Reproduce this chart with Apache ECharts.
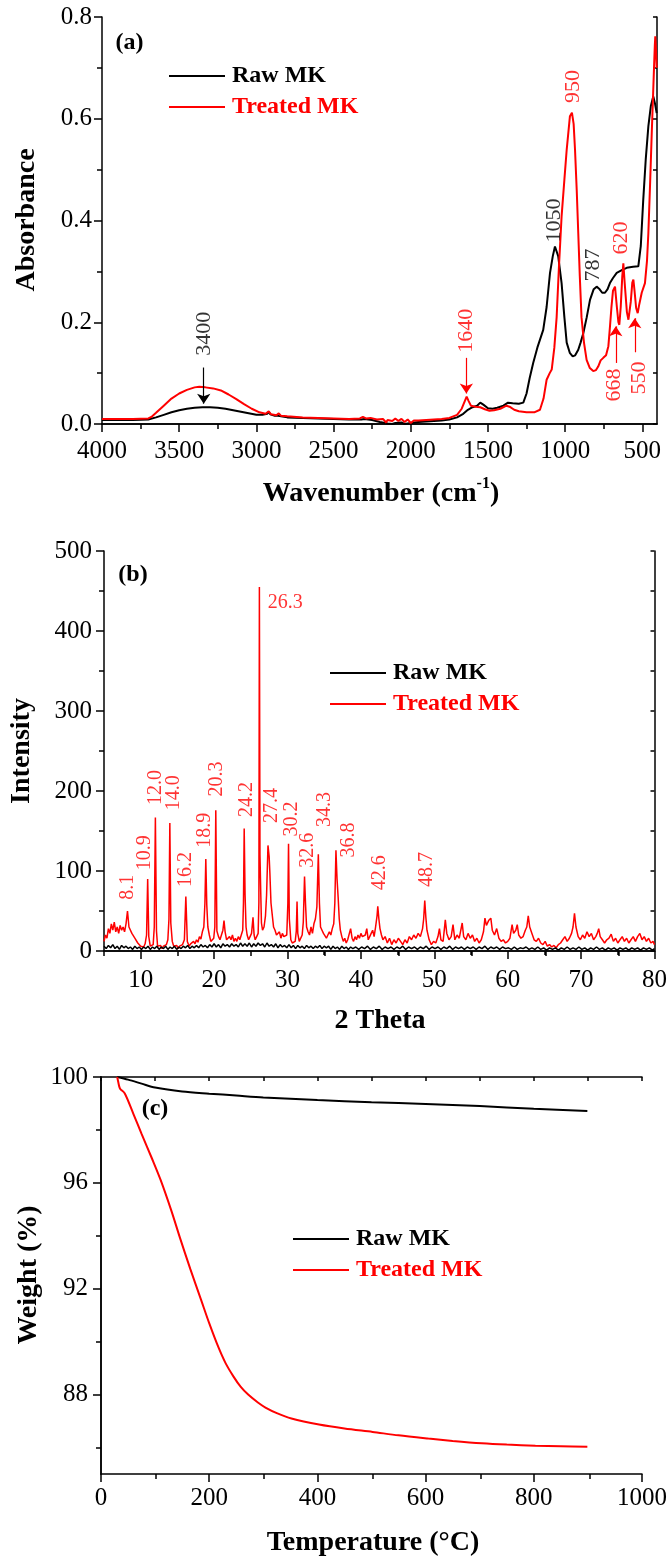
<!DOCTYPE html>
<html><head><meta charset="utf-8">
<script src="https://cdn.jsdelivr.net/npm/echarts@6/dist/echarts.min.js"></script>
<style>html,body{margin:0;padding:0;background:#fff}#c{width:670px;height:1559px}</style>
</head><body><div id="c"></div>
<script>
// ---------- DATA ----------
// (a) FTIR: [wavenumber cm-1, absorbance]
const ftirRaw = [[4000,0.008],[3800,0.008],[3700,0.009],[3650,0.013],[3600,0.018],[3550,0.023],[3500,0.027],[3450,0.030],[3400,0.032],[3350,0.033],[3300,0.033],[3250,0.032],[3200,0.030],[3150,0.027],[3100,0.024],[3050,0.021],[3000,0.018],[2960,0.018],[2930,0.020],[2920,0.024],[2910,0.019],[2880,0.016],[2860,0.016],[2850,0.019],[2840,0.015],[2800,0.013],[2700,0.012],[2600,0.011],[2500,0.010],[2400,0.009],[2320,0.009],[2300,0.010],[2250,0.008],[2200,0.004],[2150,0.001],[2120,0.000],[2100,0.002],[2060,0.003],[2040,0.000],[2000,0.002],[1950,0.004],[1900,0.005],[1850,0.006],[1800,0.007],[1750,0.009],[1700,0.013],[1660,0.020],[1630,0.028],[1600,0.033],[1570,0.036],[1550,0.042],[1530,0.038],[1500,0.031],[1470,0.030],[1440,0.032],[1400,0.036],[1370,0.042],[1340,0.041],[1300,0.040],[1271,0.042],[1250,0.060],[1230,0.090],[1207,0.120],[1180,0.150],[1142,0.185],[1120,0.230],[1098,0.297],[1080,0.330],[1066,0.349],[1058,0.350],[1045,0.330],[1023,0.277],[1005,0.210],[990,0.160],[970,0.140],[951,0.133],[935,0.135],[915,0.146],[900,0.160],[882,0.179],[860,0.210],[839,0.244],[815,0.265],[796,0.270],[780,0.266],[760,0.258],[742,0.258],[725,0.265],[710,0.277],[690,0.287],[666,0.297],[630,0.303],[601,0.307],[560,0.309],[526,0.310],[510,0.350],[494,0.441],[478,0.520],[461,0.585],[445,0.625],[429,0.644],[418,0.630],[407,0.611]];
const ftirTreated = [[4000,0.010],[3800,0.010],[3700,0.011],[3680,0.014],[3650,0.022],[3600,0.036],[3550,0.050],[3500,0.060],[3450,0.067],[3400,0.072],[3370,0.073],[3330,0.072],[3280,0.070],[3230,0.066],[3180,0.058],[3130,0.049],[3080,0.039],[3030,0.030],[2980,0.023],[2940,0.020],[2920,0.025],[2905,0.019],[2870,0.017],[2855,0.021],[2840,0.016],[2800,0.015],[2700,0.013],[2600,0.012],[2500,0.011],[2400,0.010],[2330,0.011],[2310,0.014],[2290,0.011],[2260,0.012],[2220,0.009],[2180,0.010],[2160,0.003],[2150,0.008],[2120,0.006],[2100,0.011],[2080,0.006],[2060,0.010],[2040,0.004],[2020,0.009],[2000,0.002],[1980,0.007],[1950,0.007],[1900,0.008],[1850,0.009],[1800,0.010],[1750,0.012],[1700,0.018],[1670,0.030],[1650,0.045],[1638,0.054],[1625,0.045],[1610,0.036],[1580,0.034],[1550,0.033],[1520,0.029],[1490,0.026],[1460,0.027],[1420,0.030],[1380,0.036],[1360,0.034],[1330,0.028],[1300,0.025],[1250,0.023],[1200,0.023],[1163,0.028],[1140,0.050],[1120,0.087],[1100,0.100],[1087,0.107],[1070,0.150],[1055,0.210],[1040,0.310],[1023,0.408],[1005,0.480],[990,0.539],[969,0.605],[956,0.612],[945,0.590],[936,0.539],[925,0.460],[915,0.375],[905,0.290],[894,0.210],[878,0.160],[861,0.126],[840,0.110],[818,0.104],[800,0.106],[786,0.113],[770,0.125],[753,0.130],[735,0.135],[720,0.153],[710,0.190],[700,0.230],[690,0.262],[677,0.270],[665,0.230],[655,0.200],[649,0.195],[640,0.230],[630,0.290],[623,0.316],[615,0.280],[600,0.220],[590,0.205],[584,0.202],[575,0.240],[565,0.278],[558,0.284],[550,0.260],[540,0.228],[530,0.218],[520,0.235],[504,0.258],[483,0.277],[470,0.320],[461,0.375],[450,0.470],[439,0.572],[430,0.650],[424,0.703],[419,0.745],[416,0.762],[412,0.740],[407,0.700]];
// peak labels [x, y at text start, text]
const ftirNotesRaw = [[3341,0.134,'3400'],[1074,0.357,'1050'],[820,0.280,'787']];
const ftirNotesTreated = [[947,0.631,'950'],[1640,0.140,'1640'],[638,0.333,'620'],[683,0.044,'668'],[521,0.058,'550']];
// arrows [x, yFrom, yTo]
const ftirArrowsRaw = [[3341,0.111,0.040]];
const ftirArrowsTreated = [[1640,0.130,0.060],[672,0.120,0.192],[549,0.141,0.208]];

// (b) XRD: [2 theta, intensity]
const xrdRaw = [[5,6],[5.3,3],[5.6,7],[5.9,4],[6.2,8],[6.5,3],[6.8,6],[7.1,2],[7.4,7],[7.7,4],[8.0,6],[8.3,3],[8.6,5],[8.9,2],[9.2,6],[9.5,3],[9.8,5],[10.1,2],[10.4,5],[10.7,3],[11.0,6],[11.3,2],[11.6,5],[11.9,3],[12.2,6],[12.5,2],[12.8,5],[13.1,3],[13.4,6],[13.7,2],[14.0,5],[14.3,3],[14.6,6],[14.9,2],[15.2,5],[15.5,3],[15.8,6],[16.1,4],[16.4,7],[16.7,3],[17.0,6],[17.3,4],[17.6,7],[17.9,4],[18.2,8],[18.5,5],[18.8,7],[19.1,4],[19.4,8],[19.7,5],[20.0,9],[20.3,5],[20.6,8],[20.9,4],[21.2,9],[21.5,6],[21.8,8],[22.1,5],[22.4,9],[22.7,6],[23.0,8],[23.3,5],[23.6,10],[23.9,6],[24.2,9],[24.5,6],[24.8,10],[25.1,5],[25.4,9],[25.7,6],[26.0,10],[26.3,7],[26.6,9],[26.9,5],[27.2,10],[27.5,6],[27.8,8],[28.1,5],[28.4,9],[28.7,4],[29.0,8],[29.3,5],[29.6,7],[29.9,4],[30.2,8],[30.5,4],[30.8,7],[31.1,3],[31.4,7],[31.7,4],[32.0,6],[32.3,3],[32.6,7],[32.9,4],[33.2,6],[33.5,3],[33.8,6],[34.1,4],[34.4,7],[34.7,3],[35.0,6],[35.3,4],[35.6,6],[35.9,2],[36.2,6],[36.5,3],[36.8,5],[37.1,2],[37.4,6],[37.7,3],[38.0,5],[38.3,2],[38.6,5],[38.9,3],[39.3,5],[39.7,2],[40.1,5],[40.5,3],[40.9,6],[41.3,2],[41.7,5],[42.1,3],[42.5,6],[42.9,2],[43.3,5],[43.7,3],[44.1,5],[44.5,2],[44.9,5],[45.3,3],[45.7,6],[46.1,2],[46.5,5],[46.9,3],[47.3,5],[47.7,2],[48.1,5],[48.5,3],[48.9,6],[49.3,2],[49.7,5],[50.1,3],[50.5,5],[50.9,2],[51.3,5],[51.7,3],[52.1,6],[52.5,2],[52.9,5],[53.3,3],[53.7,5],[54.1,2],[54.5,5],[54.9,3],[55.3,5],[55.7,2],[56.1,5],[56.5,3],[56.9,6],[57.3,2],[57.7,5],[58.1,3],[58.5,5],[58.9,2],[59.3,5],[59.7,3],[60.1,4],[60.5,2],[60.9,5],[61.3,2],[61.7,4],[62.1,3],[62.5,5],[62.9,2],[63.3,4],[63.7,2],[64.1,5],[64.5,2],[64.9,4],[65.3,1],[65.7,4],[66.1,2],[66.5,4],[66.9,1],[67.3,4],[67.7,2],[68.1,5],[68.5,2],[68.9,4],[69.3,2],[69.7,5],[70.1,2],[70.5,4],[70.9,1],[71.3,4],[71.7,2],[72.1,5],[72.5,2],[72.9,4],[73.3,1],[73.7,4],[74.1,2],[74.5,4],[74.9,1],[75.3,4],[75.7,2],[76.1,4],[76.5,1],[76.9,4],[77.3,2],[77.7,4],[78.1,1],[78.5,4],[78.9,2],[79.3,4],[79.7,1],[80,3]];
const xrdTreated = [[5.0,12],[5.2,20],[5.4,16],[5.6,28],[5.8,22],[6.0,34],[6.2,26],[6.4,36],[6.6,24],[6.8,30],[7.0,22],[7.2,32],[7.4,26],[7.6,30],[7.8,24],[8.0,34],[8.2,50],[8.4,30],[8.6,28],[8.8,22],[9.0,24],[9.2,16],[9.4,14],[9.6,10],[9.8,12],[10.0,6],[10.2,8],[10.4,5],[10.6,9],[10.8,20],[10.95,90],[11.1,18],[11.3,6],[11.5,4],[11.7,8],[11.85,30],[12.0,167],[12.15,25],[12.3,6],[12.5,4],[12.7,7],[12.9,3],[13.1,6],[13.3,4],[13.5,8],[13.7,14],[13.85,40],[13.97,160],[14.1,35],[14.3,12],[14.5,6],[14.7,4],[14.9,7],[15.1,3],[15.3,6],[15.5,4],[15.7,8],[15.95,14],[16.15,68],[16.35,12],[16.6,6],[16.8,9],[17.0,7],[17.2,12],[17.4,9],[17.6,14],[17.8,11],[18.0,18],[18.2,15],[18.4,24],[18.6,30],[18.75,60],[18.87,115],[19.0,58],[19.15,30],[19.35,20],[19.55,12],[19.75,10],[19.95,16],[20.1,30],[20.23,176],[20.38,25],[20.6,18],[20.8,14],[21.0,20],[21.2,26],[21.35,38],[21.5,24],[21.7,14],[21.9,12],[22.1,18],[22.3,14],[22.5,20],[22.7,12],[22.9,16],[23.1,12],[23.3,18],[23.5,14],[23.7,20],[23.9,26],[24.0,60],[24.1,153],[24.22,70],[24.35,30],[24.5,20],[24.7,14],[24.9,18],[25.1,22],[25.3,42],[25.45,20],[25.6,14],[25.8,18],[26.0,22],[26.1,60],[26.17,455],[26.25,120],[26.35,75],[26.45,35],[26.6,26],[26.8,30],[27.0,44],[27.15,70],[27.34,132],[27.5,118],[27.6,97],[27.75,60],[27.9,47],[28.1,30],[28.3,26],[28.5,20],[28.7,18],[28.9,24],[29.1,16],[29.3,22],[29.5,18],[29.7,16],[29.9,20],[30.05,60],[30.14,134],[30.25,40],[30.45,14],[30.65,10],[30.85,8],[31.05,12],[31.2,25],[31.3,62],[31.4,22],[31.6,12],[31.8,14],[32.0,20],[32.15,36],[32.32,93],[32.45,60],[32.6,30],[32.8,24],[33.0,20],[33.2,30],[33.4,22],[33.6,34],[33.8,40],[34.0,55],[34.2,121],[34.35,60],[34.5,30],[34.7,26],[34.9,22],[35.1,20],[35.3,16],[35.5,20],[35.7,24],[35.9,20],[36.1,28],[36.3,34],[36.45,60],[36.6,126],[36.75,90],[36.9,67],[37.05,40],[37.2,26],[37.4,18],[37.6,12],[37.8,16],[38.0,10],[38.2,14],[38.4,16],[38.6,28],[38.8,16],[39.0,12],[39.2,18],[39.4,14],[39.6,20],[39.8,16],[40.0,22],[40.2,18],[40.4,16],[40.6,20],[40.8,28],[41.0,14],[41.2,18],[41.4,22],[41.6,26],[41.8,18],[42.0,30],[42.2,44],[42.3,56],[42.45,40],[42.6,28],[42.8,20],[43.0,14],[43.3,18],[43.6,10],[43.9,16],[44.2,8],[44.5,14],[44.8,10],[45.1,16],[45.4,12],[45.7,8],[46.0,14],[46.3,10],[46.6,18],[46.9,14],[47.2,20],[47.5,16],[47.8,22],[48.1,18],[48.4,28],[48.55,40],[48.7,63],[48.85,42],[49.0,26],[49.3,14],[49.6,8],[49.9,12],[50.2,10],[50.5,18],[50.7,28],[50.9,14],[51.2,12],[51.5,39],[51.7,22],[52.0,14],[52.3,18],[52.55,33],[52.8,14],[53.1,20],[53.4,16],[53.8,35],[54.0,18],[54.3,14],[54.6,22],[54.9,16],[55.2,20],[55.5,12],[55.8,16],[56.1,10],[56.4,14],[56.7,24],[56.9,41],[57.1,32],[57.4,38],[57.7,41],[57.9,26],[58.2,20],[58.5,28],[58.8,16],[59.1,12],[59.4,14],[59.7,10],[60.0,12],[60.3,16],[60.6,33],[60.8,22],[61.1,26],[61.3,33],[61.5,20],[61.8,16],[62.1,18],[62.4,26],[62.6,30],[62.8,44],[63.0,30],[63.3,22],[63.6,14],[63.9,12],[64.2,16],[64.5,10],[64.8,8],[65.1,12],[65.4,6],[65.7,8],[66.0,5],[66.3,7],[66.6,4],[66.9,8],[67.2,10],[67.5,14],[67.8,18],[68.1,12],[68.4,16],[68.7,22],[68.9,30],[69.1,47],[69.3,30],[69.6,18],[69.9,14],[70.2,20],[70.5,16],[70.8,24],[71.1,18],[71.4,22],[71.7,14],[72.0,18],[72.2,22],[72.4,28],[72.6,18],[72.9,14],[73.2,10],[73.5,14],[73.8,16],[74.1,21],[74.4,12],[74.7,16],[75.0,10],[75.3,14],[75.6,18],[75.9,12],[76.2,16],[76.5,10],[76.8,14],[77.1,18],[77.4,12],[77.7,18],[78.0,22],[78.3,14],[78.6,18],[78.9,12],[79.2,16],[79.5,10],[79.8,12],[80.0,8]];
const xrdNotes = [[8.27,64,'8.1'],[10.6,101,'10.9'],[12.03,182.5,'12.0'],[14.5,176,'14.0'],[16.2,80,'16.2'],[18.74,129,'18.9'],[20.3,193,'20.3'],[24.4,167.5,'24.2'],[27.8,160,'27.4'],[30.57,143,'30.2'],[32.8,104,'32.6'],[35.1,155,'34.3'],[38.3,117,'36.8'],[42.5,76,'42.6'],[48.96,80,'48.7']];
const xrdNotesFlat = [[27.3,435,'26.3']];

// (c) TGA: [temperature °C, weight %]
const tgaRaw = [[30,100],[50,99.9],[75,99.75],[100,99.6],[150,99.45],[200,99.37],[250,99.3],[300,99.23],[400,99.13],[500,99.05],[600,98.98],[700,98.9],[800,98.8],[899,98.72]];
const tgaTreated = [[30,100],[32,99.8],[35,99.57],[44,99.38],[60,98.6],[75,97.85],[94,96.93],[110,96.12],[130,94.95],[146,93.92],[165,92.75],[185,91.58],[200,90.7],[217,89.79],[230,89.2],[245,88.68],[258,88.3],[272,88.0],[290,87.7],[304,87.51],[325,87.3],[352,87.1],[403,86.87],[450,86.72],[502,86.59],[550,86.46],[605,86.34],[650,86.25],[704,86.16],[750,86.11],[803,86.07],[850,86.05],[899,86.03]];

// ticks
const ftirXMajor = [500,1000,1500,2000,2500,3000,3500,4000];
const ftirXMinor = [750,1250,1750,2250,2750,3250,3750];
const ftirYMajor = [0,0.2,0.4,0.6,0.8];
const ftirYMinor = [0.1,0.3,0.5,0.7];
const xrdXMajor = [10,20,30,40,50,60,70,80];
const xrdXMinor = [5,15,25,35,45,55,65,75];
const xrdYMajor = [0,100,200,300,400,500];
const xrdYMinor = [50,150,250,350,450];
const tgaXMajor = [0,200,400,600,800,1000];
const tgaXMinor = [100,300,500,700,900];
const tgaYMajor = [88,92,96,100];
const tgaYMinor = [86,90,94,98];

// ---------- CHART ----------
const FONT = "'Liberation Serif','Times New Roman',serif";
const RED = '#ff0000';
const chart = echarts.init(document.getElementById('c'), null, {renderer:'canvas'});

const panels = [
  {rect:{left:102,top:17,width:555,height:407}, xmin:405, xmax:4000, inv:true, ymin:0, ymax:0.8,
   xM:ftirXMajor, xm:ftirXMinor, yM:ftirYMajor, ym:ftirYMinor, yfmt:v=>Number(v).toFixed(1), ymargin:10, xmargin:15},
  {rect:{left:104,top:551,width:552,height:400}, xmin:5, xmax:80, inv:false, ymin:0, ymax:500,
   xM:xrdXMajor, xm:xrdXMinor, yM:xrdYMajor, ym:xrdYMinor, yfmt:v=>String(v), ymargin:12, xmargin:17},
  {rect:{left:101,top:1077,width:543,height:397}, xmin:0, xmax:1000, inv:false, ymin:85, ymax:100,
   xM:tgaXMajor, xm:tgaXMinor, yM:tgaYMajor, ym:tgaYMinor, yfmt:v=>String(v), ymargin:13, xmargin:12}
];
const grid=[], xAxis=[], yAxis=[];
const line = {show:true, lineStyle:{color:'#000', width:1.5}};
const tickStyle = {color:'#000', width:1.5};
const lab = {fontFamily:FONT, fontSize:25, color:'#000'};
panels.forEach((p,i)=>{
  grid.push(Object.assign({containLabel:false}, p.rect));
  grid.push(Object.assign({containLabel:false}, p.rect));
  const g = 2*i, gm = 2*i+1;
  const xb = {type:'value', min:p.xmin, max:p.xmax, inverse:p.inv, splitLine:{show:false}};
  const yb = {type:'value', min:p.ymin, max:p.ymax, splitLine:{show:false}};
  xAxis.push(Object.assign({}, xb, {gridIndex:g, position:'bottom', axisLine:line,
    axisTick:{show:true, customValues:p.xM, length:8, lineStyle:tickStyle},
    axisLabel:Object.assign({show:true, customValues:p.xM, margin:p.xmargin, formatter:v=>String(v)}, lab)}));
  xAxis.push(Object.assign({}, xb, {gridIndex:g, position:'top', axisLine:line,
    axisTick:{show:true, inside:true, customValues:p.xM.concat(p.xm), length:4, lineStyle:tickStyle},
    axisLabel:{show:false}}));
  xAxis.push(Object.assign({}, xb, {gridIndex:gm, position:'bottom', axisLine:{show:false},
    axisTick:{show:true, customValues:p.xm, length:5, lineStyle:tickStyle}, axisLabel:{show:false}}));
  yAxis.push(Object.assign({}, yb, {gridIndex:g, position:'left', axisLine:line,
    axisTick:{show:true, customValues:p.yM, length:8, lineStyle:tickStyle},
    axisLabel:Object.assign({show:true, customValues:p.yM, margin:p.ymargin, formatter:p.yfmt}, lab)}));
  yAxis.push(Object.assign({}, yb, {gridIndex:g, position:'right', axisLine:line,
    axisTick:{show:true, inside:true, customValues:p.yM.concat(p.ym), length:4, lineStyle:tickStyle},
    axisLabel:{show:false}}));
  yAxis.push(Object.assign({}, yb, {gridIndex:gm, position:'left', axisLine:{show:false},
    axisTick:{show:true, customValues:p.ym, length:5, lineStyle:tickStyle}, axisLabel:{show:false}}));
});

function lineSeries(name, data, color, ax, width, smooth){
  return {type:'line', name, data, xAxisIndex:ax*3, yAxisIndex:ax*3, showSymbol:false, symbol:'none',
    smooth:smooth||false, lineStyle:{color, width}, itemStyle:{color}, z:3, silent:true};
}
function noteSeries(name, data, color, ax, size, rotate, arrows){
  const s = {type:'scatter', name, xAxisIndex:ax*3, yAxisIndex:ax*3, symbolSize:0,
    itemStyle:{color:color}, silent:true, z:5,
    data: data.map(d=>({value:d})),
    label:{show:true, position:'inside', rotate:rotate, align:'left', verticalAlign:'middle',
      formatter:q=>q.value[2], fontFamily:FONT, fontSize:size, color:color}};
  if (arrows) {
    s.markLine = {silent:true, symbol:['none','arrow'], symbolSize:10, label:{show:false},
      lineStyle:{color:color, width:1.2, type:'solid'}, itemStyle:{color:color},
      data: arrows.map(a=>[{coord:[a[0],a[1]], itemStyle:{color:color}, lineStyle:{color:color}},{coord:[a[0],a[2]], itemStyle:{color:color}}])};
  }
  return s;
}

const series = [
  lineSeries('Raw MK', ftirRaw, '#000', 0, 2),
  lineSeries('Treated MK', ftirTreated, RED, 0, 2),
  noteSeries('ftir-raw-notes', ftirNotesRaw, '#000', 0, 22, 90, ftirArrowsRaw),
  noteSeries('ftir-treated-notes', ftirNotesTreated, RED, 0, 22, 90, ftirArrowsTreated),
  lineSeries('Treated MK', xrdTreated, RED, 1, 1.5),
  lineSeries('Raw MK', xrdRaw, '#000', 1, 1.5),
  noteSeries('xrd-notes', xrdNotes, RED, 1, 20, 90),
  noteSeries('xrd-notes-flat', xrdNotesFlat, RED, 1, 20, 0),
  lineSeries('Raw MK', tgaRaw, '#000', 2, 2, 0.3),
  lineSeries('Treated MK', tgaTreated, RED, 2, 2, 0.3)
];

function legendAt(left, top){
  return {left, top, padding:0, orient:'vertical', icon:'rect', itemWidth:56, itemHeight:2, itemGap:5,
    selectedMode:false,
    textStyle:{fontFamily:FONT, fontSize:24, fontWeight:'bold', lineHeight:26, padding:[0,0,0,2]},
    data:[{name:'Raw MK', textStyle:{color:'#000'}},{name:'Treated MK', textStyle:{color:RED}}]};
}

function txt(x, y, text, opt, font){
  return Object.assign({type:'text', x, y, silent:true,
    style:{text, font:font||('bold 28px '+FONT), fill:'#000', align:'center', verticalAlign:'middle'}}, opt||{});
}
const graphic = [
  txt(27, 220, 'Absorbance', {rotation:Math.PI/2}),
  {type:'text', x:381, y:492, silent:true, style:{
    text:'{t|Wavenumber (cm}{s|-1}{t|)}', align:'center', verticalAlign:'middle',
    rich:{t:{font:'bold 28px '+FONT, fill:'#000', lineHeight:32, verticalAlign:'bottom'},
          s:{font:'bold 16px '+FONT, fill:'#000', lineHeight:18, verticalAlign:'top'}}}},
  txt(22, 751, 'Intensity', {rotation:Math.PI/2}),
  txt(380, 1021, '2 Theta'),
  txt(29, 1275, 'Weight (%)', {rotation:Math.PI/2}),
  txt(373, 1543, 'Temperature (°C)'),
  txt(129.5, 43, '(a)', null, 'bold 24px '+FONT),
  txt(133, 575, '(b)', null, 'bold 24px '+FONT),
  txt(155, 1109, '(c)', null, 'bold 24px '+FONT)
];

chart.setOption({
  animation:false,
  backgroundColor:'#fff',
  grid, xAxis, yAxis, series, graphic,
  legend:[legendAt(169,63), legendAt(330,660), legendAt(293,1226)]
});
</script>
</body></html>
